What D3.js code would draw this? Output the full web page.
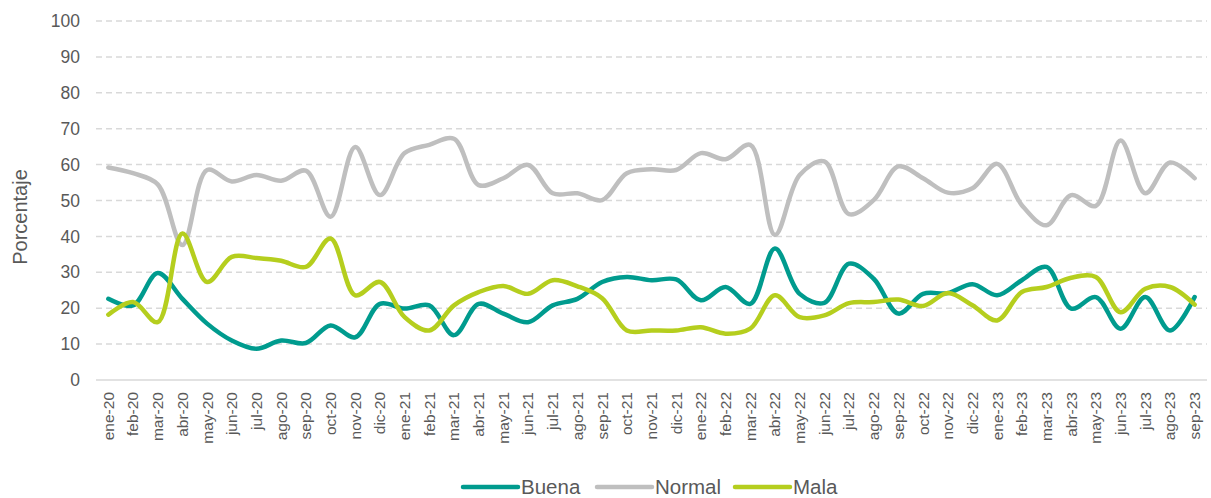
<!DOCTYPE html>
<html>
<head>
<meta charset="utf-8">
<script src="https://cdn.jsdelivr.net/npm/d3@7"></script>
<style>
  body { margin: 0; background: #fff; }
  text { font-family: "Liberation Sans", Arial, sans-serif; fill: #595959; }
</style>
</head>
<body>
<svg id="chart"></svg>
<script>
const months = ["ene","feb","mar","abr","may","jun","jul","ago","sep","oct","nov","dic"];
const categories = [];
for (const yy of ["20", "21", "22", "23"]) {
  for (const m of months) categories.push(`${m}-${yy}`);
}
categories.length = 45; // ene-20 .. sep-23

const buena = [22.6, 20.8, 29.8, 22.6, 15.7, 11.0, 8.7, 11.0, 10.3, 15.2, 11.9, 21.2, 19.9, 20.8, 12.5,
  21.2, 18.5, 16.1, 20.8, 22.6, 27.3, 28.7, 27.8, 28.0, 22.2, 25.9, 21.2, 36.6, 24.0, 21.5,
  32.4, 28.2, 18.5, 24.0, 24.2, 26.7, 23.6, 27.8, 31.5, 19.9, 23.1, 14.3, 23.1, 13.8, 23.1];
const normal = [59.2, 57.6, 54.5, 37.6, 58.5, 55.3, 57.1, 55.5, 58.3, 45.5, 64.9, 51.5, 63.2, 65.5, 67.2,
  54.3, 56.2, 59.9, 52.0, 52.0, 50.1, 57.6, 58.7, 58.5, 63.2, 61.5, 65.5, 40.4, 57.1, 60.9,
  46.2, 50.1, 59.5, 56.2, 52.2, 53.4, 60.2, 48.7, 43.1, 51.5, 48.5, 66.7, 52.0, 60.6, 56.2];
const mala = [18.2, 21.7, 16.1, 40.8, 27.3, 34.3, 34.0, 33.2, 31.5, 39.4, 23.6, 27.3, 17.5, 13.8, 20.8,
  24.5, 26.2, 24.0, 27.8, 26.1, 22.8, 13.8, 13.8, 13.8, 14.7, 12.9, 14.3, 23.6, 17.5, 18.0,
  21.4, 21.7, 22.4, 20.6, 24.2, 20.8, 16.6, 24.5, 25.9, 28.5, 28.7, 18.9, 25.4, 25.9, 21.0];
const yTicks = d3.range(0, 101, 10);

const series = [
  { name: "Buena", values: buena, color: "#009B8E" },
  { name: "Normal", values: normal, color: "#BFBFBF" },
  { name: "Mala", values: mala, color: "#B5CE1E" }
];

const W = 1211, H = 498;
const margin = { top: 21, right: 4, bottom: 118, left: 96 };
const width = W - margin.left - margin.right;
const height = H - margin.top - margin.bottom;

const svg = d3.select("#chart").attr("width", W).attr("height", H);
const g = svg.append("g").attr("transform", `translate(${margin.left},${margin.top})`);

const x = d3.scaleBand().domain(categories).range([0, width]);
const y = d3.scaleLinear().domain([0, 100]).range([height, 0]);

// grid
g.selectAll(".grid")
  .data(yTicks.filter(d => d > 0))
  .enter().append("line")
    .attr("x1", 0).attr("x2", width)
    .attr("y1", d => y(d)).attr("y2", d => y(d))
    .attr("stroke", "#D9D9D9")
    .attr("stroke-width", 1.5)
    .attr("stroke-dasharray", "6,4");

g.append("line")
  .attr("x1", 0).attr("x2", width)
  .attr("y1", y(0)).attr("y2", y(0))
  .attr("stroke", "#D9D9D9").attr("stroke-width", 1.5);

// y axis labels
const yAxis = g.append("g").call(d3.axisLeft(y).tickValues(yTicks).tickSize(0).tickPadding(16));
yAxis.select(".domain").remove();
yAxis.selectAll("text").style("font-size", "17.5px").attr("fill", "#595959");

// x axis labels
const xAxis = g.append("g")
  .attr("transform", `translate(0,${height})`)
  .call(d3.axisBottom(x).tickSize(0));
xAxis.select(".domain").remove();
xAxis.selectAll("text")
  .style("font-size", "15.5px")
  .attr("fill", "#595959")
  .attr("text-anchor", "end")
  .attr("transform", "rotate(-90)")
  .attr("x", -12)
  .attr("y", 0)
  .attr("dy", "0.35em");

// y title
svg.append("text")
  .attr("transform", "rotate(-90)")
  .attr("x", -217).attr("y", 27)
  .attr("text-anchor", "middle")
  .style("font-size", "20px")
  .text("Porcentaje");

const line = d3.line()
  .x((d, i) => x(categories[i]) + x.bandwidth() / 2)
  .y(d => y(d))
  .curve(d3.curveCatmullRom.alpha(0.5));

g.selectAll(".series")
  .data(series)
  .enter().append("path")
    .attr("fill", "none")
    .attr("stroke", d => d.color)
    .attr("stroke-width", 4.5)
    .attr("stroke-linecap", "round")
    .attr("d", d => line(d.values));

// legend
const legendX = [463, 597, 735];
const leg = svg.selectAll(".leg")
  .data(series)
  .enter().append("g")
    .attr("transform", (d, i) => `translate(${legendX[i]},487)`);
leg.append("line")
  .attr("x1", 0).attr("x2", 55)
  .attr("stroke", d => d.color)
  .attr("stroke-width", 4.5)
  .attr("stroke-linecap", "round");
leg.append("text")
  .attr("x", 58).attr("dy", "0.35em")
  .style("font-size", "20.5px")
  .text(d => d.name);
</script>
</body>
</html>
